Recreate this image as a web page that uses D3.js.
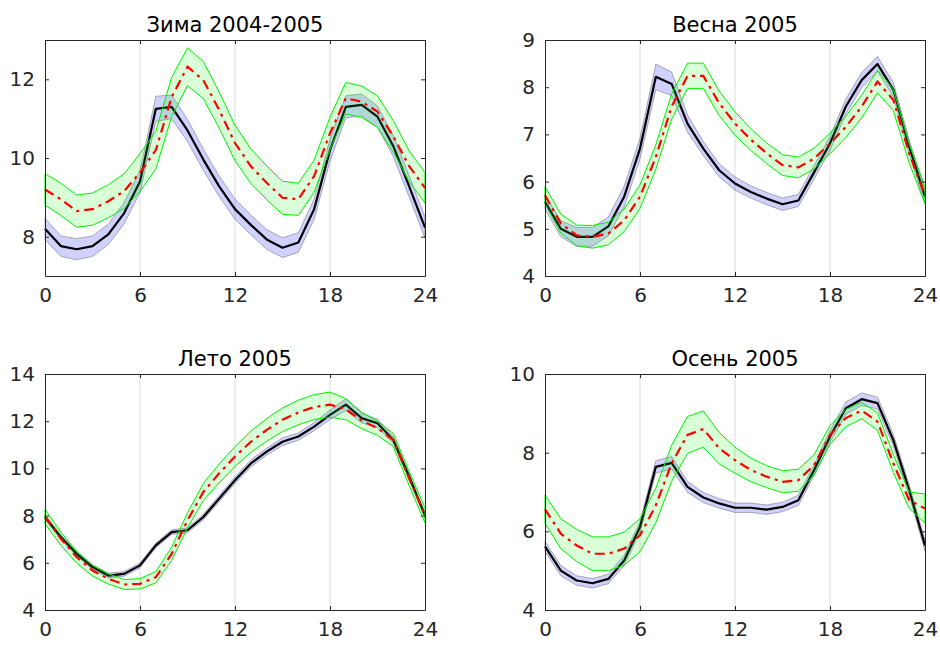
<!DOCTYPE html>
<html>
<head>
<meta charset="UTF-8">
<title>Суточный ход по сезонам</title>
<script src="https://d3js.org/d3.v7.min.js"></script>
<style>
  body { margin: 0; background: #fff; }
  text { font-family: "DejaVu Sans", sans-serif; }
</style>
</head>
<body>
<svg width="940" height="646"></svg>
<script>
// hours of the day (x axis) and tick labels
var hours = [0,1,2,3,4,5,6,7,8,9,10,11,12,13,14,15,16,17,18,19,20,21,22,23,24];
var xTicks = [0, 6, 12, 18, 24];
var gridHours = [6, 12, 18];

var titles = ['Зима 2004-2005', 'Весна 2005', 'Лето 2005', 'Осень 2005'];
var yDomains = [[7, 13], [4, 9], [4, 14], [4, 10]];
var yTicks = [[8, 10, 12], [4, 5, 6, 7, 8, 9], [4, 6, 8, 10, 12, 14], [4, 6, 8, 10]];

// black line + blue band (observed)
var winterObs    = [8.2,7.76,7.68,7.76,8.06,8.6,9.4,11.25,11.3,10.7,9.96,9.28,8.7,8.3,7.93,7.72,7.85,8.7,10.2,11.3,11.35,11.05,10.3,9.28,8.23];
var winterObsErr = [0.27,0.26,0.27,0.26,0.26,0.27,0.28,0.32,0.3,0.28,0.27,0.26,0.26,0.25,0.25,0.25,0.25,0.26,0.28,0.28,0.28,0.27,0.27,0.27,0.27];
var springObs    = [5.57,5.0,4.83,4.83,5.05,5.68,6.7,8.22,8.07,7.23,6.7,6.24,5.96,5.78,5.64,5.52,5.6,6.2,6.81,7.59,8.15,8.49,7.95,6.74,5.68];
var springObsErr = [0.15,0.17,0.2,0.2,0.2,0.22,0.22,0.27,0.25,0.18,0.15,0.14,0.14,0.13,0.13,0.13,0.13,0.14,0.15,0.16,0.16,0.16,0.15,0.15,0.15];
var summerObs    = [7.94,7.09,6.38,5.82,5.46,5.53,5.89,6.74,7.3,7.38,7.94,8.72,9.5,10.21,10.71,11.13,11.35,11.77,12.27,12.7,12.13,11.91,11.2,9.65,8.01];
var summerObsErr = [0.1,0.1,0.1,0.1,0.1,0.1,0.1,0.1,0.1,0.1,0.12,0.13,0.14,0.15,0.15,0.16,0.16,0.17,0.2,0.25,0.2,0.18,0.15,0.12,0.1];
var autumnObs    = [5.62,5.0,4.75,4.68,4.79,5.26,6.11,7.64,7.74,7.13,6.86,6.71,6.6,6.6,6.55,6.62,6.79,7.56,8.41,9.13,9.36,9.26,8.32,7.05,5.64];
var autumnObsErr = [0.13,0.13,0.12,0.12,0.12,0.13,0.14,0.16,0.16,0.14,0.13,0.12,0.12,0.12,0.12,0.12,0.13,0.14,0.15,0.16,0.16,0.15,0.15,0.14,0.14];

// red dash-dot line + green band (model)
var winterMod    = [9.2,8.95,8.65,8.7,8.9,9.16,9.63,10.2,11.55,12.32,11.98,11.22,10.38,9.79,9.37,8.99,8.95,9.54,10.63,11.52,11.43,11.18,10.55,9.79,9.24];
var winterModErr = [0.4,0.41,0.41,0.41,0.42,0.44,0.48,0.48,0.5,0.48,0.47,0.46,0.45,0.44,0.43,0.42,0.41,0.41,0.41,0.4,0.4,0.4,0.4,0.39,0.39];
var springMod    = [5.71,5.11,4.86,4.83,4.9,5.18,5.68,6.52,7.59,8.24,8.24,7.66,7.23,6.89,6.6,6.35,6.3,6.49,6.81,7.16,7.59,8.12,7.73,6.6,5.71];
var springModErr = [0.18,0.2,0.22,0.24,0.24,0.24,0.25,0.26,0.27,0.27,0.27,0.26,0.25,0.23,0.22,0.22,0.22,0.22,0.22,0.23,0.24,0.24,0.23,0.2,0.18];
var summerMod    = [7.96,7.02,6.24,5.67,5.32,5.08,5.11,5.39,6.38,7.8,9.0,9.79,10.5,11.13,11.63,12.06,12.37,12.6,12.7,12.51,12.03,11.7,11.2,9.57,8.01];
var summerModErr = [0.3,0.28,0.25,0.23,0.22,0.21,0.22,0.24,0.28,0.32,0.36,0.4,0.42,0.45,0.48,0.5,0.52,0.53,0.53,0.45,0.35,0.3,0.28,0.3,0.32];
var autumnMod    = [6.56,5.94,5.64,5.43,5.43,5.56,5.9,6.66,7.73,8.45,8.6,8.11,7.81,7.56,7.39,7.26,7.3,7.69,8.45,8.88,9.07,8.79,7.73,6.79,6.58];
var autumnModErr = [0.36,0.38,0.41,0.43,0.43,0.42,0.42,0.44,0.46,0.47,0.46,0.4,0.33,0.3,0.28,0.28,0.28,0.26,0.24,0.22,0.21,0.22,0.23,0.21,0.37];

var obs = [winterObs, springObs, summerObs, autumnObs];
var obsErr = [winterObsErr, springObsErr, summerObsErr, autumnObsErr];
var mod = [winterMod, springMod, summerMod, autumnMod];
var modErr = [winterModErr, springModErr, summerModErr, autumnModErr];

var svg = d3.select('svg');
var w = 380, h = 236, tick = 4;
var lefts = [45, 545, 45, 545], tops = [40, 40, 374, 374];
var fmt = d3.format('d');

titles.forEach(function(title, i) {
    var g = svg.append('g').attr('transform', 'translate(' + lefts[i] + ',' + tops[i] + ')');
    var x = d3.scaleLinear().domain([0, 24]).range([0, w]);
    var y = d3.scaleLinear().domain(yDomains[i]).range([h, 0]);

    // vertical grid
    g.selectAll('.grid').data(gridHours).enter().append('line')
        .attr('x1', d => x(d)).attr('x2', d => x(d))
        .attr('y1', 0).attr('y2', h)
        .attr('stroke', '#dcdcdc').attr('stroke-width', 1);

    var rows = hours.map(function(hr, k) {
        return { hr: hr, o: obs[i][k], oe: obsErr[i][k], m: mod[i][k], me: modErr[i][k] };
    });

    var obsBand = d3.area().x(d => x(d.hr)).y0(d => y(d.o - d.oe)).y1(d => y(d.o + d.oe));
    var modBand = d3.area().x(d => x(d.hr)).y0(d => y(d.m - d.me)).y1(d => y(d.m + d.me));

    g.append('path').datum(rows)
        .attr('d', obsBand)
        .attr('fill', '#0000ff').attr('fill-opacity', 0.18)
        .attr('stroke', '#555').attr('stroke-opacity', 0.45).attr('stroke-width', 1);

    g.append('path').datum(rows)
        .attr('d', d3.line().x(d => x(d.hr)).y(d => y(d.o)))
        .attr('fill', 'none').attr('stroke', '#000').attr('stroke-width', 2.2)
        .attr('stroke-linejoin', 'round');

    g.append('path').datum(rows)
        .attr('d', modBand)
        .attr('fill', '#00ff00').attr('fill-opacity', 0.15)
        .attr('stroke', '#00f000').attr('stroke-width', 1);

    g.append('path').datum(rows)
        .attr('d', d3.line().x(d => x(d.hr)).y(d => y(d.m)))
        .attr('fill', 'none').attr('stroke', '#ff0000').attr('stroke-width', 2.2)
        .attr('stroke-dasharray', '10,5,3,5');

    // box + inward ticks on all four sides
    g.append('g').attr('transform', 'translate(0,' + h + ')')
        .call(d3.axisBottom(x).tickValues(xTicks).tickFormat(fmt).tickSizeInner(-tick).tickSizeOuter(0).tickPadding(12));
    g.append('g')
        .call(d3.axisTop(x).tickValues(xTicks).tickSizeInner(-tick).tickSizeOuter(0).tickFormat(''));
    g.append('g')
        .call(d3.axisLeft(y).tickValues(yTicks[i]).tickFormat(fmt).tickSizeInner(-tick).tickSizeOuter(0).tickPadding(10));
    g.append('g').attr('transform', 'translate(' + w + ',0)')
        .call(d3.axisRight(y).tickValues(yTicks[i]).tickSizeInner(-tick).tickSizeOuter(0).tickFormat(''));

    g.selectAll('.domain').attr('stroke', '#262626');
    g.selectAll('.tick line').attr('stroke', '#262626');
    g.selectAll('.tick text').attr('fill', '#262626').style('font-size', '20px')
        .style('font-family', '"DejaVu Sans", sans-serif');

    g.append('text')
        .attr('x', w / 2).attr('y', -8)
        .attr('text-anchor', 'middle')
        .attr('fill', '#000')
        .style('font-size', '21px')
        .text(title);
});
</script>
</body>
</html>
